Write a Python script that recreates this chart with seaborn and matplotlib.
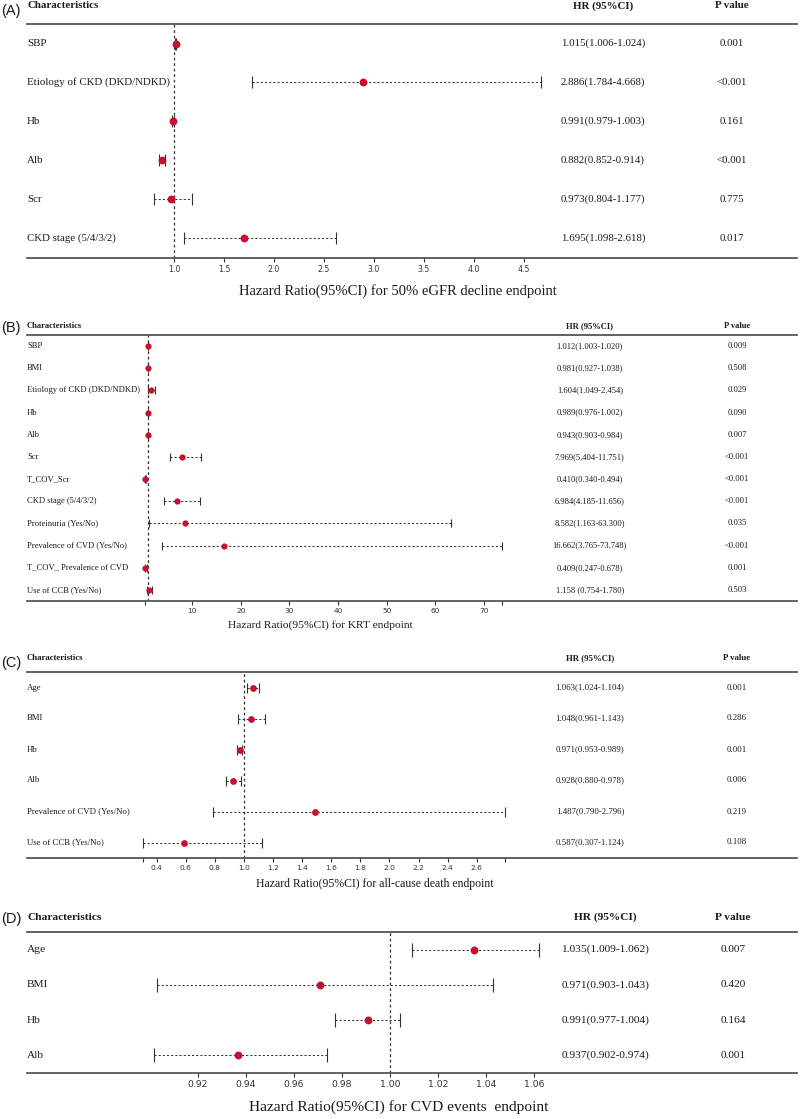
import numpy as np
import pandas as pd
import seaborn as sns
import matplotlib.pyplot as plt
from matplotlib.transforms import blended_transform_factory

# ---- data --------------------------------------------------------------
a_labels = ["SBP", "Etiology of CKD (DKD/NDKD)", "Hb", "Alb", "Scr", "CKD stage (5/4/3/2)"]
a_hr = [1.015, 2.886, 0.991, 0.882, 0.973, 1.695]
a_lo = [1.006, 1.784, 0.979, 0.852, 0.804, 1.098]
a_hi = [1.024, 4.668, 1.003, 0.914, 1.177, 2.618]
a_ci = ["1.015(1.006-1.024)", "2.886(1.784-4.668)", "0.991(0.979-1.003)",
        "0.882(0.852-0.914)", "0.973(0.804-1.177)", "1.695(1.098-2.618)"]
a_p = ["0.001", "<0.001", "0.161", "<0.001", "0.775", "0.017"]

b_labels = ["SBP", "BMI", "Etiology of CKD (DKD/NDKD)", "Hb", "Alb", "Scr", "T_COV_Scr",
            "CKD stage (5/4/3/2)", "Proteinuria (Yes/No)", "Prevalence of CVD (Yes/No)",
            "T_COV_ Prevalence of CVD", "Use of CCB (Yes/No)"]
b_hr = [1.012, 0.981, 1.604, 0.989, 0.943, 7.969, 0.410, 6.984, 8.582, 16.662, 0.409, 1.158]
b_lo = [1.003, 0.927, 1.049, 0.976, 0.903, 5.404, 0.340, 4.185, 1.163, 3.765, 0.247, 0.754]
b_hi = [1.020, 1.038, 2.454, 1.002, 0.984, 11.751, 0.494, 11.656, 63.300, 73.748, 0.678, 1.780]
b_ci = ["1.012(1.003-1.020)", "0.981(0.927-1.038)", "1.604(1.049-2.454)", "0.989(0.976-1.002)",
        "0.943(0.903-0.984)", "7.969(5.404-11.751)", "0.410(0.340-0.494)", "6.984(4.185-11.656)",
        "8.582(1.163-63.300)", "16.662(3.765-73.748)", "0.409(0.247-0.678)", "1.158 (0.754-1.780)"]
b_p = ["0.009", "0.508", "0.029", "0.090", "0.007", "<0.001", "<0.001", "<0.001",
       "0.035", "<0.001", "0.001", "0.503"]

c_labels = ["Age", "BMI", "Hb", "Alb", "Prevalence of CVD (Yes/No)", "Use of CCB (Yes/No)"]
c_hr = [1.063, 1.048, 0.971, 0.928, 1.487, 0.587]
c_lo = [1.024, 0.961, 0.953, 0.880, 0.790, 0.307]
c_hi = [1.104, 1.143, 0.989, 0.978, 2.796, 1.124]
c_ci = ["1.063(1.024-1.104)", "1.048(0.961-1.143)", "0.971(0.953-0.989)",
        "0.928(0.880-0.978)", "1.487(0.790-2.796)", "0.587(0.307-1.124)"]
c_p = ["0.001", "0.286", "0.001", "0.006", "0.219", "0.108"]

d_labels = ["Age", "BMI", "Hb", "Alb"]
d_hr = [1.035, 0.971, 0.991, 0.937]
d_lo = [1.009, 0.903, 0.977, 0.902]
d_hi = [1.062, 1.043, 1.004, 0.974]
d_ci = ["1.035(1.009-1.062)", "0.971(0.903-1.043)", "0.991(0.977-1.004)", "0.937(0.902-0.974)"]
d_p = ["0.007", "0.420", "0.164", "0.001"]

a_ticks = [1.0, 1.5, 2.0, 2.5, 3.0, 3.5, 4.0, 4.5]
b_ticks = [10, 20, 30, 40, 50, 60, 70]
c_ticks = [0.4, 0.6, 0.8, 1.0, 1.2, 1.4, 1.6, 1.8, 2.0, 2.2, 2.4, 2.6]
d_ticks = [0.92, 0.94, 0.96, 0.98, 1.00, 1.02, 1.04, 1.06]

# ---- style -------------------------------------------------------------
sns.set_theme(style="white")
plt.rcParams["font.family"] = ["Liberation Serif", "DejaVu Serif"]
RED = "#C8102E"
INK = "#1a1a1a"
W, H = 800, 1119

fig = plt.figure(figsize=(8, 11.19), dpi=100)


def px_axes(top, bottom, left=27, right=797):
    return fig.add_axes([left / W, 1 - bottom / H, (right - left) / W, (bottom - top) / H])


def forest(ax, labels, hr, lo, hi, ci, pv, xlim, ticks, ticklabels, end_ticks,
           fs, tick_fs, ms, cap, hr_x, p_x, head_dy, xlabel, xl_x, xl_y, tag, tag_y):
    n = len(labels)
    df = pd.DataFrame({"row": np.arange(n), "hr": hr, "lo": lo, "hi": hi})
    ax.axvline(1, color="#333333", lw=0.9, ls=(0, (2.2, 2.2)), zorder=1)
    eb = ax.errorbar(df["hr"], df["row"], xerr=[df["hr"] - df["lo"], df["hi"] - df["hr"]],
                     fmt="none", ecolor="#333333", elinewidth=0.75, capsize=cap,
                     capthick=0.8, zorder=2)
    for c in eb.lines[2]:
        c.set_linestyle((0, (2, 2)))
    sns.scatterplot(data=df, x="hr", y="row", color=RED, s=ms, edgecolor=RED,
                    linewidth=0, ax=ax, zorder=3, legend=False)
    ax.set_xlim(*xlim)
    ax.set_ylim(n - 0.5, -0.5)
    ax.set_yticks([])
    ax.set_ylabel("")
    ax.set_xlabel("")
    ax.set_xticks(list(ticks) + list(end_ticks))
    ax.set_xticklabels(list(ticklabels) + [""] * len(end_ticks),
                       fontfamily="DejaVu Sans", fontsize=tick_fs, color="#333333")
    ax.tick_params(axis="x", bottom=True, direction="out", length=3, width=0.8,
                   color="#333333", pad=2)
    for s in ("left", "right"):
        ax.spines[s].set_visible(False)
    for s in ("top", "bottom"):
        ax.spines[s].set_color("#555555")
        ax.spines[s].set_linewidth(1.3)
    tr = blended_transform_factory(ax.transAxes, ax.transData)
    for i in range(n):
        ax.text(0, i, labels[i], transform=tr, ha="left", va="center", fontsize=fs, color=INK)
        ax.text(hr_x, i, ci[i], transform=tr, ha="center", va="center", fontsize=fs, color=INK)
        ax.text(p_x, i, pv[i], transform=tr, ha="center", va="center", fontsize=fs, color=INK)
    top_px = (1 - ax.get_position().y1) * H
    hy = 1 - (top_px - head_dy) / H
    fig.text(27 / W, hy, "Characteristics", ha="left", va="center", fontsize=fs,
             fontweight="bold", color=INK)
    fig.text(27 / W + hr_x * 770 / W, hy, "HR (95%CI)", ha="center", va="center",
             fontsize=fs, fontweight="bold", color=INK)
    fig.text(27 / W + p_x * 770 / W, hy, "P value", ha="center", va="center",
             fontsize=fs, fontweight="bold", color=INK)
    fig.text(1 / W, 1 - tag_y / H, tag, ha="left", va="center", fontsize=10.5,
             family="Liberation Sans", color=INK)
    fig.text(xl_x / W, 1 - xl_y / H, xlabel, ha="center", va="center",
             fontsize=fs * 1.35, color=INK)


ax_a = px_axes(24, 258)
forest(ax_a, a_labels, a_hr, a_lo, a_hi, a_ci, a_p, (-0.47, 7.23), a_ticks,
       [f"{t:.1f}" for t in a_ticks], [], 7.8, 5.6, 32, 4.5, 0.748, 0.915, 18,
       "Hazard Ratio(95%CI) for 50% eGFR decline endpoint", 398, 291, "(A)", 11)

ax_b = px_axes(335, 601)
forest(ax_b, b_labels, b_hr, b_lo, b_hi, b_ci, b_p, (-23.9, 134.3), b_ticks,
       [str(t) for t in b_ticks], [min(b_lo), max(b_hi)], 6.1, 5.3, 20, 3.2, 0.731, 0.922, 9,
       "Hazard Ratio(95%CI) for KRT endpoint", 320, 625, "(B)", 328)

ax_c = px_axes(672, 858)
forest(ax_c, c_labels, c_hr, c_lo, c_hi, c_ci, c_p, (-0.491, 4.801), c_ticks,
       [f"{t:.1f}" for t in c_ticks], [min(c_lo), max(c_hi)], 6.3, 5.4, 24, 3.8, 0.731, 0.922, 14,
       "Hazard Ratio(95%CI) for all-cause death endpoint", 375, 884, "(C)", 663)

ax_d = px_axes(932, 1073)
forest(ax_d, d_labels, d_hr, d_lo, d_hi, d_ci, d_p, (0.8491, 1.1692), d_ticks,
       [f"{t:.2f}" for t in d_ticks], [], 8.2, 6.7, 32, 5, 0.751, 0.917, 15,
       "Hazard Ratio(95%CI) for CVD events  endpoint", 399, 1107, "(D)", 919)

fig.savefig("out.png", dpi=100, facecolor="white")
